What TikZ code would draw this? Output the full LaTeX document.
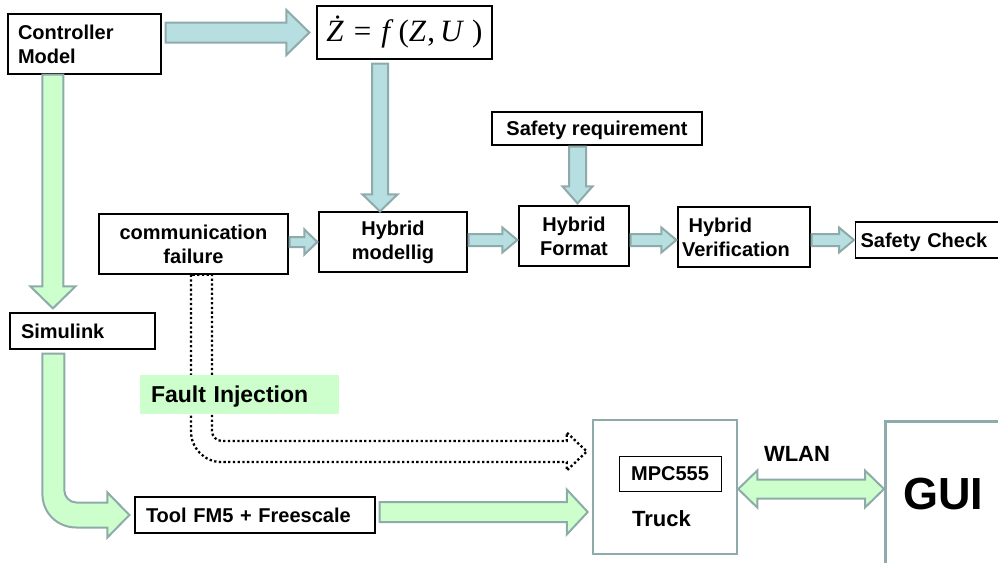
\documentclass[tikz,border=0pt]{standalone}
\usepackage{fontspec}
\setmainfont{Liberation Sans}
\newfontfamily\serif{Liberation Serif}
\usetikzlibrary{calc}
\definecolor{tealfill}{RGB}{183,222,224}
\definecolor{greenfill}{RGB}{204,255,204}
\definecolor{arrowrim}{RGB}{143,170,170}
\tikzset{
  box/.style={draw, line width=1.2pt, fill=white, inner sep=0pt, align=center,
    font=\bfseries\fontsize{20pt}{24pt}\selectfont},
  oneline/.style={text height=14.4pt, text depth=0pt},
  hwbox/.style={draw=arrowrim, line width=2.5pt},
  tealfat/.style={draw=arrowrim, line width=2pt, fill=tealfill},
  greenfat/.style={draw=arrowrim, line width=2pt, fill=greenfill},
  faultline/.style={draw=black, line width=2.3pt, dash pattern=on 2.3pt off 2.4pt},
  % block arrow: shaft half width, head half width, head length
  fat/.style n args={3}{to path={let \p1=(\tikztostart), \p2=(\tikztotarget),
      \n1={atan2(\y2-\y1,\x2-\x1)} in
      ($(\p1)+(\n1+90:#1pt)$) -- ($(\p2)+(\n1+180:#3pt)+(\n1+90:#1pt)$)
      -- ($(\p2)+(\n1+180:#3pt)+(\n1+90:#2pt)$) -- (\p2)
      -- ($(\p2)+(\n1+180:#3pt)+(\n1-90:#2pt)$) -- ($(\p2)+(\n1+180:#3pt)+(\n1-90:#1pt)$)
      -- ($(\p1)+(\n1-90:#1pt)$) -- cycle}},
  fatboth/.style n args={3}{to path={let \p1=(\tikztostart), \p2=(\tikztotarget),
      \n1={atan2(\y2-\y1,\x2-\x1)} in
      (\p1) -- ($(\p1)+(\n1:#3pt)+(\n1+90:#2pt)$) -- ($(\p1)+(\n1:#3pt)+(\n1+90:#1pt)$)
      -- ($(\p2)+(\n1+180:#3pt)+(\n1+90:#1pt)$) -- ($(\p2)+(\n1+180:#3pt)+(\n1+90:#2pt)$)
      -- (\p2) -- ($(\p2)+(\n1+180:#3pt)+(\n1-90:#2pt)$) -- ($(\p2)+(\n1+180:#3pt)+(\n1-90:#1pt)$)
      -- ($(\p1)+(\n1:#3pt)+(\n1-90:#1pt)$) -- ($(\p1)+(\n1:#3pt)+(\n1-90:#2pt)$) -- cycle}},
}
\begin{document}
\begin{tikzpicture}[x=1pt, y=-1pt]
\useasboundingbox (0,0) rectangle (998,562);
\clip (0,0) rectangle (998,562);

\node[box, minimum width=153pt, minimum height=60pt, inner xsep=10pt, text width=133pt, align=left] (ctrl) at (84.5,44) {Controller\\Model};
\node[box, minimum width=175pt, minimum height=53pt, font=\serif\fontsize{31pt}{34pt}\selectfont] (zdot) at (404.5,32.5)
  {\textit{Ż}\hspace{10pt}=\hspace{10pt}\textit{f}\hspace{5pt}(\textit{Z}\hspace{1pt},\hspace{5pt}\textit{U}\hspace{8pt})};
\node[box, minimum width=189pt, minimum height=60pt] (comm) at (193.5,244) {communication\\failure};
\node[box, minimum width=148pt, minimum height=60pt] (hmod) at (393,242) {Hybrid\\modellig};
\node[box, oneline, minimum width=210pt, minimum height=33pt] (sreq) at (597,128.5) {Safety requirement};
\node[box, minimum width=110pt, minimum height=60pt] (hfmt) at (574,236) {Hybrid\\Format};
\node[box, minimum width=132pt, minimum height=60pt, inner xsep=4pt, text width=124pt, align=left] (hver) at (744,237) {~Hybrid\\Verification};
\node[box, oneline, anchor=west, minimum height=36pt, inner xsep=5pt, text width=150pt, align=left] (scheck) at (855,240) {Safety Check};
\node[box, oneline, minimum width=145pt, minimum height=36pt, inner xsep=11pt, text width=123pt, align=left] (sim) at (82.5,331) {Simulink};
\node[box, oneline, minimum width=240pt, minimum height=36pt, inner xsep=11pt, text width=218pt, align=left] (tool) at (255,515) {Tool FM5 + Freescale};
\node[hwbox, minimum width=144pt, minimum height=134pt] (truck) at (665,487) {};
\node[box, oneline, line width=1pt, minimum width=102pt, minimum height=35pt] (mpc) at (670,473.5) {MPC555};
\node[anchor=base, font=\bfseries\fontsize{22pt}{26pt}\selectfont] (trk) at (661.5,526.7) {Truck};
\node[anchor=base, font=\bfseries\fontsize{22pt}{26pt}\selectfont] (wlan) at (797,461) {WLAN};
\node[hwbox, anchor=north west, minimum height=146pt, inner xsep=18pt, text width=100pt, align=left,
  font=\bfseries\fontsize{45pt}{54pt}\selectfont] (gui) at (884,420) {GUI};

\draw[tealfat, fat={10}{22.5}{23}] ($(ctrl.east |- zdot.west)+(4,0)$) to ($(zdot.west)+(-7,0)$);
\draw[tealfat, fat={8}{17.5}{17}] ($(hmod.north |- zdot.south)+(-13,4)$) to ($(hmod.north)+(-13,0)$);
\draw[tealfat, fat={5}{12.5}{13}] ($(comm.east |- hmod.west)+(1,0)$) to ($(hmod.west)+(-1,0)$);
\draw[tealfat, fat={8.5}{15}{17}] ($(hfmt.north |- sreq.south)+(3.5,1)$) to ($(hfmt.north)+(3.5,-2)$);
\foreach \a/\b in {hmod/hfmt, hfmt/hver, hver/scheck}
  \draw[tealfat, fat={6}{12.5}{15}] ($(\a.east |- scheck.west)+(1,0)$) to ($(\b.west |- scheck.west)+(-1,0)$);

\draw[greenfat, fat={10.5}{22.5}{22}] ($(ctrl.south west)+(45.5,0)$) to ($(sim.north west)+(43.5,-4)$);
\draw[greenfat, fat={10}{22.5}{21}] ($(tool.east)+(4,-3)$) to ($(truck.west |- tool.east)+(-4,-3)$);
\draw[greenfat, fatboth={9.5}{18.5}{19}] ($(truck.east)+(0,2)$) to ($(gui.west |- truck.east)+(0,2)$);

% bent arrow from Simulink to the tool chain
\coordinate (gs) at ($(sim.south west)+(44,4)$);
\coordinate (ge) at ($(tool.west)+(-5,0)$);
\draw[greenfat] ($(gs)+(-11,0)$) -- ($(gs |- ge)+(-11,-21)$)
  .. controls +(0,19) and +(-19,0) .. ($(gs |- ge)+(23,12.5)$)
  -- ($(ge)+(-22,12.5)$) -- ($(ge)+(-22,22.5)$) -- (ge) -- ($(ge)+(-22,-22.5)$)
  -- ($(ge)+(-22,-12.5)$) -- ($(gs |- ge)+(23,-12.5)$)
  .. controls +(-6.6,0) and +(0,6.6) .. ($(gs |- ge)+(11,-24.5)$) -- ($(gs)+(11,0)$) -- cycle;

% fault injection path
\coordinate (ds) at ($(comm.south)+(8,0)$);
\coordinate (de) at ($(truck.west)+(-5,-35.5)$);
\draw[faultline] ($(ds)+(-10.5,0)$) -- ($(ds |- de)+(-10.5,-20)$)
  .. controls +(0,16.5) and +(-16.5,0) .. ($(ds |- de)+(19.5,10.5)$)
  -- ($(de)+(-20,10.5)$) -- ($(de)+(-20,19)$) -- (de) -- ($(de)+(-20,-19)$) -- ($(de)+(-20,-10.5)$)
  -- ($(ds |- de)+(20.5,-10.5)$) .. controls +(-5.5,0) and +(0,5.5) .. ($(ds |- de)+(10.5,-20.5)$)
  -- ($(ds)+(10.5,0)$) -- cycle;
\node[fill=greenfill, inner sep=0pt, minimum width=199pt, minimum height=39pt, inner xsep=11pt, text width=177pt, align=left,
  text height=16.5pt, text depth=0pt, font=\bfseries\fontsize{23pt}{27pt}\selectfont] (fault) at (239.5,394.5) {Fault Injection};
\end{tikzpicture}
\end{document}
